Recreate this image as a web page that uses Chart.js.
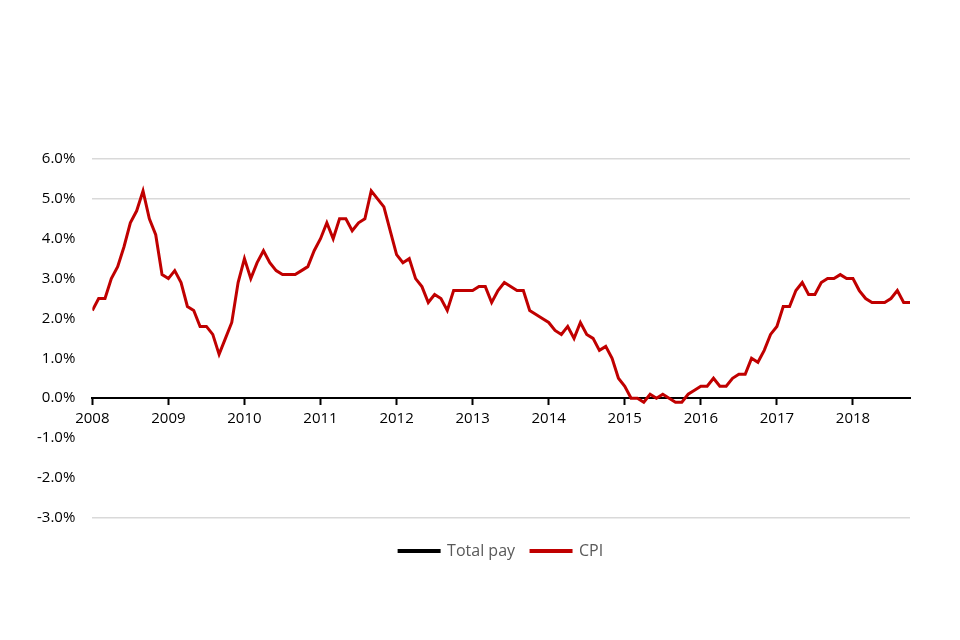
<!DOCTYPE html>
<html>
<head>
<meta charset="utf-8">
<script src="https://cdn.jsdelivr.net/npm/chart.js@4"></script>
<style>
html,body{margin:0;padding:0;background:#fff;}
#wrap{width:960px;height:640px;}
</style>
</head>
<body>
<div id="wrap"><canvas id="c" width="960" height="640"></canvas></div>
<script>
// Monthly, Jan 2008 - Oct 2018
const startYear = 2008;
const cpi2008 = [2.2, 2.5, 2.5, 3.0, 3.3, 3.8, 4.4, 4.7, 5.2, 4.5, 4.1, 3.1];
const cpi2009 = [3.0, 3.2, 2.9, 2.3, 2.2, 1.8, 1.8, 1.6, 1.1, 1.5, 1.9, 2.9];
const cpi2010 = [3.5, 3.0, 3.4, 3.7, 3.4, 3.2, 3.1, 3.1, 3.1, 3.2, 3.3, 3.7];
const cpi2011 = [4.0, 4.4, 4.0, 4.5, 4.5, 4.2, 4.4, 4.5, 5.2, 5.0, 4.8, 4.2];
const cpi2012 = [3.6, 3.4, 3.5, 3.0, 2.8, 2.4, 2.6, 2.5, 2.2, 2.7, 2.7, 2.7];
const cpi2013 = [2.7, 2.8, 2.8, 2.4, 2.7, 2.9, 2.8, 2.7, 2.7, 2.2, 2.1, 2.0];
const cpi2014 = [1.9, 1.7, 1.6, 1.8, 1.5, 1.9, 1.6, 1.5, 1.2, 1.3, 1.0, 0.5];
const cpi2015 = [0.3, 0.0, 0.0, -0.1, 0.1, 0.0, 0.1, 0.0, -0.1, -0.1, 0.1, 0.2];
const cpi2016 = [0.3, 0.3, 0.5, 0.3, 0.3, 0.5, 0.6, 0.6, 1.0, 0.9, 1.2, 1.6];
const cpi2017 = [1.8, 2.3, 2.3, 2.7, 2.9, 2.6, 2.6, 2.9, 3.0, 3.0, 3.1, 3.0];
const cpi2018 = [3.0, 2.7, 2.5, 2.4, 2.4, 2.4, 2.5, 2.7, 2.4, 2.4];
const totalPay = [];
const yTicks = [-3, -2, -1, 0, 1, 2, 3, 4, 5, 6];
const yGridShown = [6, 5, -3];

const cpi = [].concat(cpi2008, cpi2009, cpi2010, cpi2011, cpi2012, cpi2013, cpi2014, cpi2015, cpi2016, cpi2017, cpi2018);
const cpiPoints = cpi.map((v, i) => ({x: i, y: v}));

const FONT = "'Open Sans', 'Noto Sans', sans-serif";

new Chart(document.getElementById('c'), {
  type: 'line',
  data: {
    datasets: [
      {label: 'Total pay', data: totalPay, borderColor: '#000000', backgroundColor: '#000000', borderWidth: 3, pointRadius: 0},
      {label: 'CPI', data: cpiPoints, borderColor: '#c00000', backgroundColor: '#c00000', borderWidth: 3, pointRadius: 0, tension: 0}
    ]
  },
  options: {
    responsive: false,
    animation: false,
    layout: {padding: {top: 159, left: 20, right: 50, bottom: 71}},
    plugins: {
      legend: {
        position: 'bottom',
        fullSize: false,
        title: {display: true, text: ' ', font: {size: 1}, padding: {top: 0, bottom: 8}},
        labels: {
          boxWidth: 40, boxHeight: 1,
          color: '#595959',
          font: {family: FONT, size: 16},
          padding: 16
        }
      },
      tooltip: {enabled: false}
    },
    scales: {
      x: {
        type: 'linear',
        position: {y: 0},
        min: 0, max: cpi.length - 1,
        ticks: {
          stepSize: 12,
          autoSkip: false,
          maxRotation: 0,
          color: '#000',
          font: {family: FONT, size: 15},
          padding: 6,
          callback: v => (v % 12 === 0) ? String(startYear + v / 12) : ''
        },
        afterBuildTicks: axis => { axis.ticks = []; for (let v = 0; v <= cpi.length - 1; v += 12) axis.ticks.push({value: v}); },
        grid: {drawOnChartArea: false, drawTicks: true, tickLength: 6, tickColor: '#000', tickWidth: 2},
        border: {display: true, color: '#000', width: 2}
      },
      y: {
        min: -3, max: 6,
        afterBuildTicks: axis => { axis.ticks = yTicks.map(v => ({value: v})); },
        ticks: {
          color: '#000',
          font: {family: FONT, size: 15},
          padding: 17,
          callback: v => v.toFixed(1) + '%'
        },
        grid: {
          color: ctx => (ctx.tick && yGridShown.includes(ctx.tick.value)) ? '#d9d9d9' : 'rgba(0,0,0,0)',
          lineWidth: 1.5, drawTicks: false
        },
        border: {display: false}
      }
    }
  }
});
</script>
</body>
</html>
